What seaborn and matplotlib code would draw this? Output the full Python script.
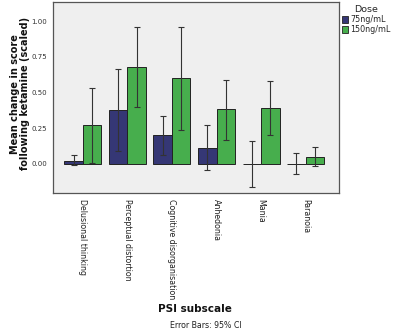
import matplotlib
matplotlib.use("Agg")
import matplotlib.pyplot as plt
import seaborn as sns
import pandas as pd
import numpy as np

categories = ["Delusional thinking", "Perceptual distortion", "Cognitive disorganisation",
              "Anhedonia", "Mania", "Paranoia"]
doses = ["75ng/mL", "150ng/mL"]
mean_75 = [0.02, 0.38, 0.20, 0.115, 0.0, 0.0]
low_75 = [-0.01, 0.09, 0.06, -0.045, -0.16, -0.072]
high_75 = [0.06, 0.665, 0.335, 0.275, 0.16, 0.075]
mean_150 = [0.27, 0.68, 0.60, 0.385, 0.39, 0.05]
low_150 = [0.01, 0.395, 0.24, 0.17, 0.20, -0.012]
high_150 = [0.53, 0.96, 0.96, 0.59, 0.58, 0.117]

df = pd.DataFrame({
    "PSI subscale": categories * 2,
    "Dose": [doses[0]] * 6 + [doses[1]] * 6,
    "value": mean_75 + mean_150,
    "low": low_75 + low_150,
    "high": high_75 + high_150,
})

sns.set_theme(style="white")
plt.rcParams['font.family'] = ['DejaVu Sans']

fig = plt.figure(figsize=(3.94, 3.35), dpi=100)
ax = fig.add_axes([0.1345, 0.424, 0.726, 0.570])
ax.set_facecolor("#efefef")

palette = {"75ng/mL": "#2a2d80", "150ng/mL": "#36bf3e"}
sns.barplot(data=df, x="PSI subscale", y="value", hue="Dose", order=categories,
            hue_order=doses, palette=palette, errorbar=None, width=0.83,
            edgecolor="#222222", linewidth=0.7, ax=ax, legend=True)

# error bars from bar patches
for cont, d in zip(ax.containers, doses):
    sub = df[df["Dose"] == d].set_index("PSI subscale").loc[categories]
    for patch, (_, row) in zip(cont.patches, sub.iterrows()):
        xc = patch.get_x() + patch.get_width() / 2
        ax.errorbar([xc], [row["value"]],
                    yerr=[[row["value"] - row["low"]], [row["high"] - row["value"]]],
                    fmt="none", ecolor="#333333", elinewidth=0.8, capsize=2.2, capthick=0.8)

ax.set_xlim(-0.67, 5.75)
ax.set_ylim(-0.203, 1.133)
ax.set_yticks([0, 0.25, 0.5, 0.75, 1.0])
ax.set_yticklabels(["0.00", "0.25", "0.50", "0.75", "1.00"], fontsize=5.0, color="#333333")
ax.set_xticks(range(6))
ax.set_xticklabels(categories, rotation=270, fontsize=5.7, color="#222222", va="top", ha="center")
ax.tick_params(axis="x", direction="out", length=3, width=0.7, color="#333333", pad=1)
ax.tick_params(axis="y", direction="out", length=3, width=0.7, color="#333333", pad=1.2)
for s in ax.spines.values():
    s.set_color("#555555")
    s.set_linewidth(0.9)

ax.set_ylabel("")
ax.set_xlabel("")
fig.text(0.05, 0.72, "Mean change in score\nfollowing ketamine (scaled)", fontsize=7.0,
         fontweight="bold", color="#111111", rotation=90, ha="center", va="center",
         linespacing=1.05, multialignment="center")
fig.text(0.495, 0.078, "PSI subscale", fontsize=7.5, fontweight="bold", ha="center",
         va="center", color="#111111")
fig.text(0.523, 0.027, "Error Bars: 95% CI", fontsize=5.7, ha="center", va="center", color="#222222")

leg = ax.legend(title="Dose", loc="upper left", bbox_to_anchor=(1.0, 1.0), frameon=False,
                fontsize=5.8, title_fontsize=6.8, handlelength=0.75, handleheight=0.9,
                handletextpad=0.25, borderaxespad=0.05, borderpad=0.3, labelspacing=0.15)
leg._legend_box.align = "center"
for h in leg.legend_handles:
    h.set_edgecolor("#222222")
    h.set_linewidth(0.6)

fig.savefig("out.png", dpi=100)
